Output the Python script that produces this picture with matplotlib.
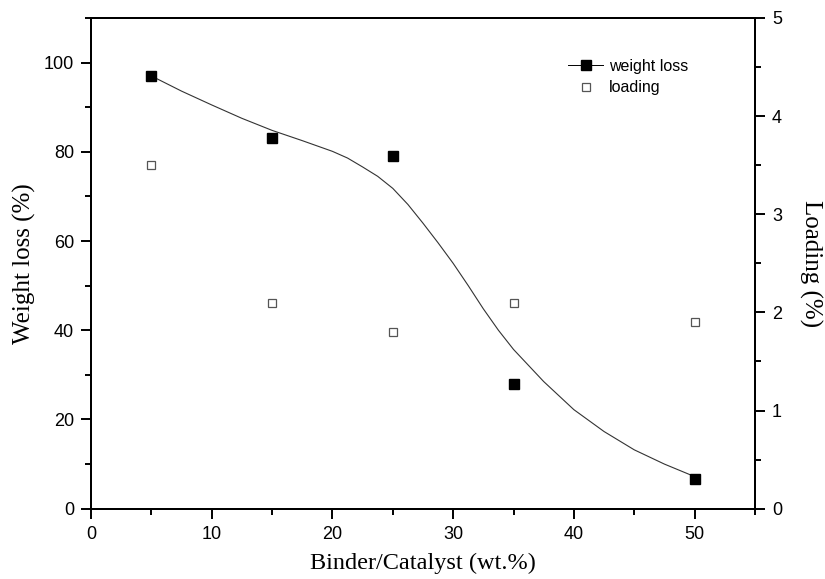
import matplotlib
matplotlib.use("Agg")
import matplotlib.pyplot as plt
from matplotlib.ticker import MultipleLocator

# data
binder = [5, 15, 25, 35, 50]
weight_loss = [97.1, 83.1, 79.1, 28.0, 6.6]
loading = [3.5, 2.1, 1.8, 2.1, 1.9]

# smooth fitted curve
curve_x = [5, 7.5, 10, 12.5, 15, 17.5, 20, 21.25, 22.5, 23.75, 25, 26.25, 27.5,
           28.75, 30, 31.25, 32.5, 33.75, 35, 37.5, 40, 42.5, 45, 47.5, 50]
curve_y = [97, 93.6, 90.5, 87.5, 84.8, 82.5, 80.1, 78.6, 76.6, 74.5, 71.8, 68.2, 64.0,
           59.6, 55.0, 50.0, 44.8, 40.0, 35.7, 28.5, 22.2, 17.3, 13.2, 10, 7.2]

serif = "Liberation Serif"
sans = "Liberation Sans"

fig = plt.figure(figsize=(8.25, 5.79), dpi=100)
ax = fig.add_axes([0.1103, 0.1214, 0.8048, 0.8476])
ax2 = ax.twinx()

ax.plot(curve_x, curve_y, color="#333333", lw=0.8, zorder=2)
ax.plot(binder, weight_loss, ls="none", marker="s", ms=7.3, mfc="black", mec="black", zorder=3)
ax2.plot(binder, loading, ls="none", marker="s", ms=6, mfc="white", mec="#555555", mew=0.9, zorder=3)

ax.set_xlim(0, 55)
ax.set_ylim(0, 110)
ax2.set_ylim(0, 5)

ax.xaxis.set_major_locator(MultipleLocator(10))
ax.xaxis.set_minor_locator(MultipleLocator(5))
ax.yaxis.set_major_locator(MultipleLocator(20))
ax.yaxis.set_minor_locator(MultipleLocator(10))
ax2.yaxis.set_major_locator(MultipleLocator(1))
ax2.yaxis.set_minor_locator(MultipleLocator(0.5))

for a in (ax, ax2):
    for s in a.spines.values():
        s.set_linewidth(1.4)
    a.tick_params(which="major", direction="out", length=7.2, width=1.4, labelsize=13, pad=5)
    a.tick_params(which="minor", direction="out", length=4.3, width=1.4)
    for lbl in a.get_xticklabels() + a.get_yticklabels():
        lbl.set_fontfamily(sans)

ax.tick_params(axis="x", which="both", top=False)
ax.set_xlabel("Binder/Catalyst (wt.%)", fontfamily=serif, fontsize=17.5, labelpad=7)
ax.set_ylabel("Weight loss (%)", fontfamily=serif, fontsize=18, labelpad=5.5)
ax2.set_ylabel("Loading (%)", fontfamily=serif, fontsize=18, rotation=270, labelpad=29)

h1, = ax.plot([], [], color="black", lw=0.7, marker="s", ms=7, mfc="black", mec="black")
h2, = ax.plot([], [], ls="none", marker="s", ms=5.5, mfc="white", mec="#555555", mew=0.9)
leg = ax.legend([h1, h2], ["weight loss", "loading"], loc="upper left",
                bbox_to_anchor=(0.697, 0.946), frameon=False, handlelength=2.2,
                handletextpad=0.35, labelspacing=0.4, prop={"family": sans, "size": 11.5})

fig.savefig("out.png", dpi=100)
